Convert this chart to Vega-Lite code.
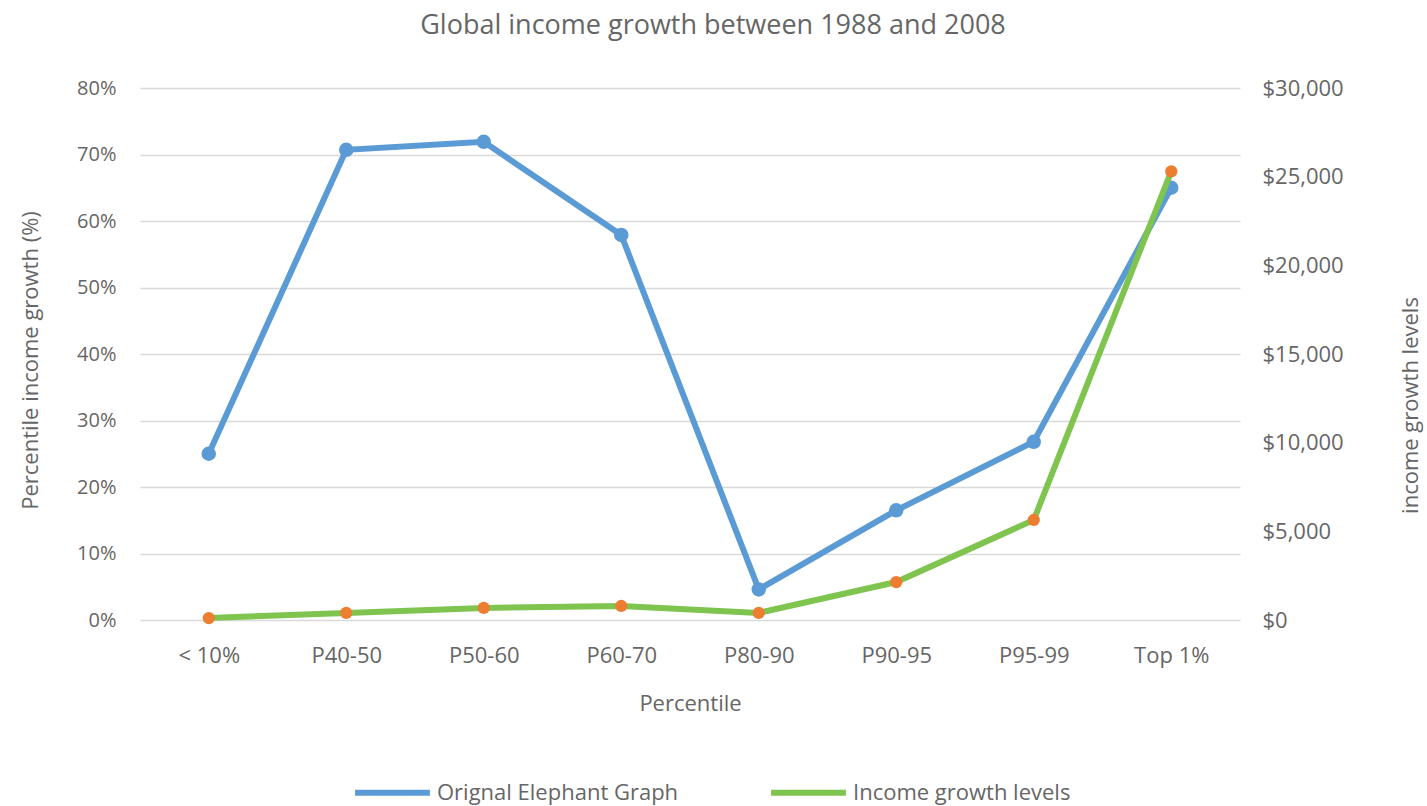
{
  "$schema": "https://vega.github.io/schema/vega-lite/v6.json",
  "width": 1100,
  "height": 532,
  "autosize": {"type": "none"},
  "padding": {"left": 140, "top": 88, "right": 187, "bottom": 186},
  "background": "white",
  "config": {
    "font": "Open Sans",
    "view": {"stroke": null},
    "axis": {"labelColor": "#666666", "titleColor": "#666666", "labelFont": "Open Sans", "titleFont": "Open Sans", "titleFontWeight": "normal"},
    "legend": {"labelColor": "#666666", "labelFont": "Open Sans"}
  },
  "title": {
    "text": "Global income growth between 1988 and 2008",
    "anchor": "middle",
    "frame": "group",
    "dx": 23,
    "offset": 37,
    "fontSize": 27,
    "font": "Open Sans",
    "fontWeight": "normal",
    "color": "#666666"
  },
  "data": {
    "values": [
      {"percentile": "< 10%", "growth": 0.25, "income": 110},
      {"percentile": "P40-50", "growth": 0.707, "income": 400},
      {"percentile": "P50-60", "growth": 0.719, "income": 680},
      {"percentile": "P60-70", "growth": 0.579, "income": 790},
      {"percentile": "P80-90", "growth": 0.046, "income": 400},
      {"percentile": "P90-95", "growth": 0.165, "income": 2140},
      {"percentile": "P95-99", "growth": 0.268, "income": 5640},
      {"percentile": "Top 1%", "growth": 0.65, "income": 25300}
    ]
  },
  "encoding": {
    "x": {
      "field": "percentile",
      "type": "ordinal",
      "sort": null,
      "scale": {"type": "point", "padding": 0.5},
      "axis": {
        "title": "Percentile",
        "labelAngle": 0,
        "labelFontSize": 22,
        "labelPadding": 25,
        "ticks": false,
        "domain": false,
        "grid": false,
        "titleFontSize": 22,
        "titleY": 83,
        "titleBaseline": "middle",
        "titleX": 550
      }
    }
  },
  "layer": [
    {
      "layer": [
        {
          "mark": {"type": "line", "strokeWidth": 6},
          "encoding": {
            "y": {
              "field": "growth",
              "type": "quantitative",
              "scale": {"domain": [0, 0.8], "nice": false, "zero": true},
              "axis": {
                "title": "Percentile income growth (%)",
                "format": ".0%",
                "values": [0, 0.1, 0.2, 0.3, 0.4, 0.5, 0.6, 0.7, 0.8],
                "labelFontSize": 20,
                "labelPadding": 24,
                "ticks": false,
                "domain": false,
                "grid": true,
                "gridColor": "#d9d9d9",
                "gridWidth": 1.5,
                "titleFontSize": 22,
                "titleX": -110,
                "titleY": 272,
                "titleAngle": -90,
                "titleBaseline": "middle",
                "titleAlign": "center"
              }
            },
            "color": {
              "datum": "Orignal Elephant Graph",
              "scale": {
                "domain": ["Orignal Elephant Graph", "Income growth levels"],
                "range": ["#5b9bd5", "#7ec44f"]
              },
              "legend": {
                "title": null,
                "orient": "none",
                "direction": "horizontal",
                "legendX": 212,
                "legendY": 664,
                "symbolType": "stroke",
                "symbolSize": 5600,
                "symbolStrokeWidth": 6,
                "labelFontSize": 22,
                "labelOffset": 4,
                "labelLimit": 400,
                "columnPadding": 80
              }
            }
          }
        },
        {
          "mark": {"type": "point", "filled": true, "size": 210, "opacity": 1, "color": "#5b9bd5"},
          "encoding": {
            "y": {"field": "growth", "type": "quantitative"}
          }
        }
      ]
    },
    {
      "layer": [
        {
          "mark": {"type": "line", "strokeWidth": 6},
          "encoding": {
            "y": {
              "field": "income",
              "type": "quantitative",
              "scale": {"domain": [0, 30000], "nice": false, "zero": true},
              "axis": {
                "orient": "right",
                "title": "income growth levels",
                "format": "$,.0f",
                "values": [0, 5000, 10000, 15000, 20000, 25000, 30000],
                "labelFontSize": 22,
                "labelPadding": 22,
                "ticks": false,
                "domain": false,
                "grid": false,
                "titleFontSize": 22,
                "titleX": 170,
                "titleY": 317,
                "titleAngle": -90,
                "titleBaseline": "middle",
                "titleAlign": "center"
              }
            },
            "color": {"datum": "Income growth levels"}
          }
        },
        {
          "mark": {"type": "point", "filled": true, "size": 150, "opacity": 1, "color": "#ed7d31"},
          "encoding": {
            "y": {"field": "income", "type": "quantitative"}
          }
        }
      ]
    }
  ],
  "resolve": {"scale": {"y": "independent"}}
}
